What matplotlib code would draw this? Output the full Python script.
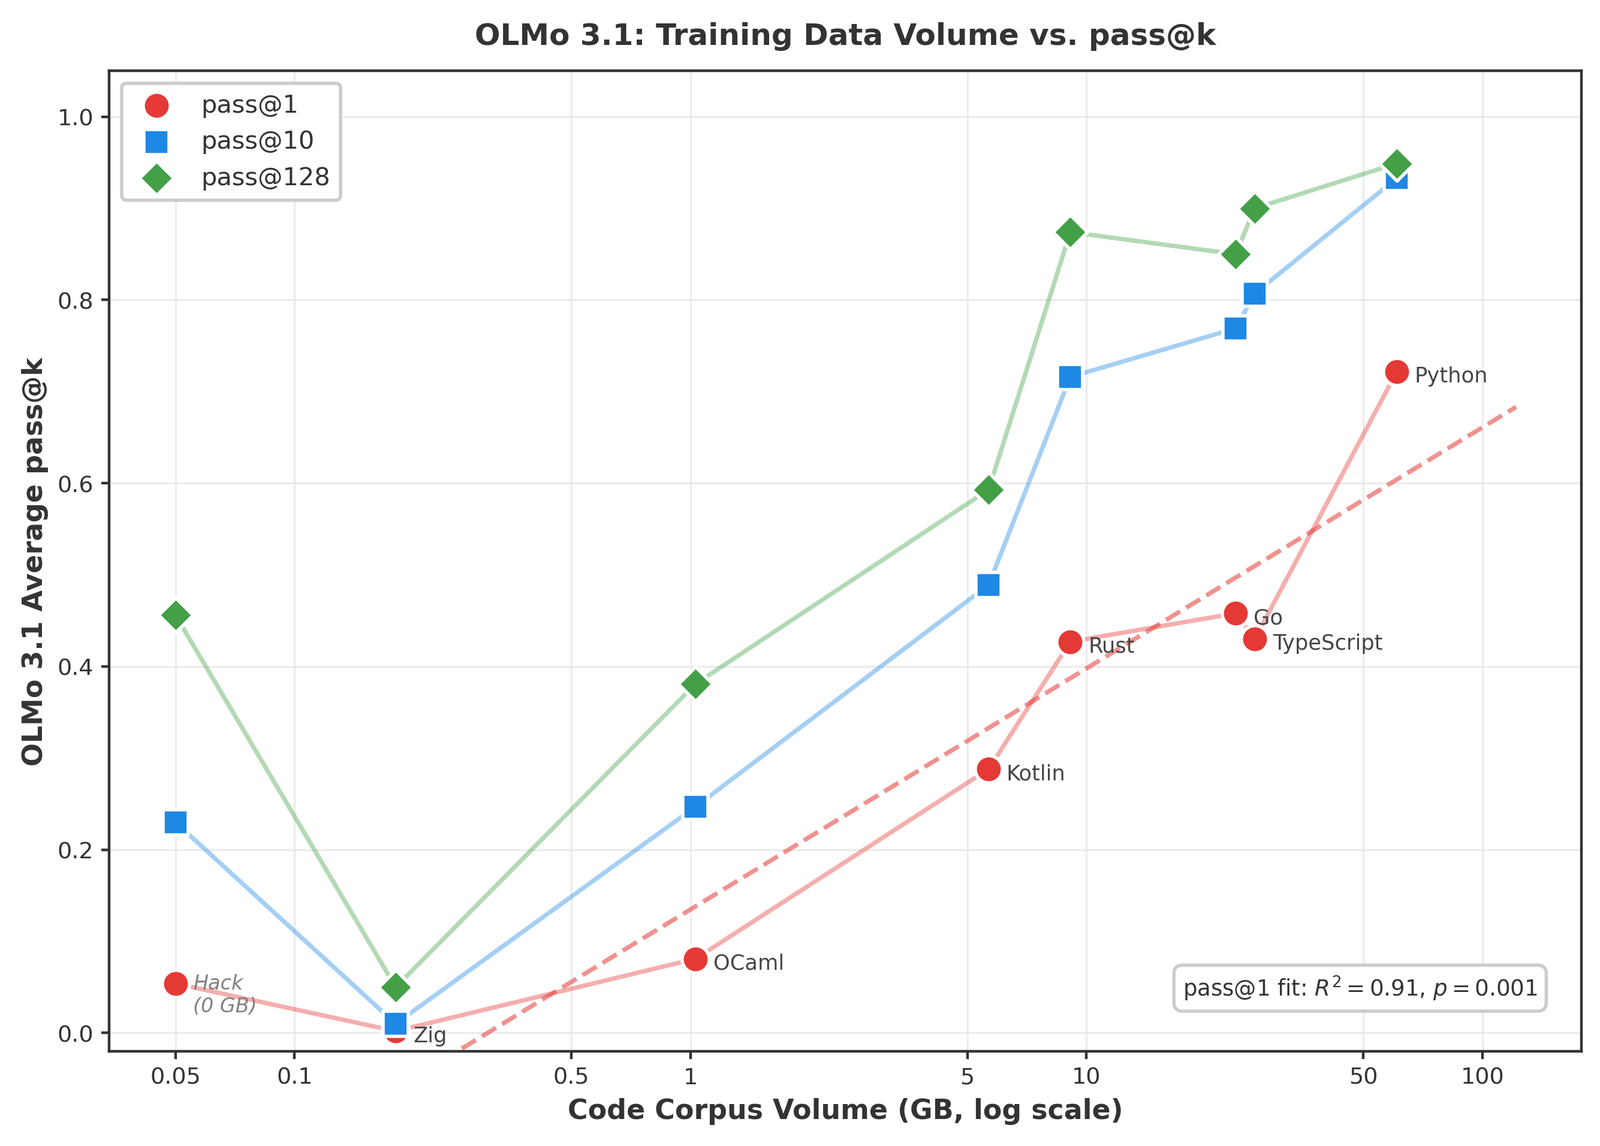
import numpy as np
import matplotlib
matplotlib.use("Agg")
import matplotlib.pyplot as plt

# ---------------------------------------------------------------- data
languages = ["Hack", "Zig", "OCaml", "Kotlin", "Rust", "Go", "TypeScript", "Python"]
corpus_gb = np.array([0.0, 0.18, 1.03, 5.66, 9.1, 23.8, 26.6, 60.8])
pass_at_1 = np.array([0.054, 0.002, 0.081, 0.288, 0.427, 0.458, 0.430, 0.722])
pass_at_10 = np.array([0.230, 0.010, 0.247, 0.489, 0.716, 0.769, 0.807, 0.933])
pass_at_128 = np.array([0.456, 0.050, 0.381, 0.593, 0.874, 0.850, 0.900, 0.949])

hack_x = 0.05  # zero-volume language is placed here on the log axis
x_ticks = [0.05, 0.1, 0.5, 1, 5, 10, 50, 100]
x_tick_labels = ["0.05", "0.1", "0.5", "1", "5", "10", "50", "100"]
fit_text = r"pass@1 fit: $R^2 = 0.91$, $p = 0.001$"

RED = "#E53935"
BLUE = "#1E88E5"
GREEN = "#43A047"
DARK = "#333333"

plt.rcParams["font.family"] = ["DejaVu Sans"]
plt.rcParams["text.color"] = DARK
plt.rcParams["axes.labelcolor"] = DARK
plt.rcParams["xtick.color"] = DARK
plt.rcParams["ytick.color"] = DARK

fig, ax = plt.subplots(figsize=(10, 7.167), dpi=266.9)
fig.subplots_adjust(left=0.0682, right=0.9885, top=0.9377, bottom=0.0826)

x = np.where(corpus_gb > 0, corpus_gb, hack_x)

series = [
    (pass_at_1, RED, "o", 150, "pass@1"),
    (pass_at_10, BLUE, "s", 125, "pass@10"),
    (pass_at_128, GREEN, "D", 120, "pass@128"),
]
for vals, col, mk, size, lab in series:
    ax.plot(x, vals, color=col, alpha=0.4, lw=2, zorder=2)
    ax.scatter(x, vals, s=size, marker=mk, color=col, edgecolor="white",
               linewidth=1.5, zorder=4, label=lab)

# log-linear fit on pass@1 (languages with data only)
mask = corpus_gb > 0
slope, intercept = np.polyfit(np.log10(corpus_gb[mask]), pass_at_1[mask], 1)
xf = np.logspace(np.log10(corpus_gb[mask].min() / 2), np.log10(corpus_gb[mask].max() * 2), 100)
ax.plot(xf, intercept + slope * np.log10(xf), ls="--", color=RED, alpha=0.55, lw=2, zorder=3)

# language labels
for i, name in enumerate(languages):
    if name == "Hack":
        ax.annotate("Hack\n(0 GB)", (x[i], pass_at_1[i]), xytext=(8, -5),
                    textcoords="offset points", va="center", ha="left",
                    fontsize=9, style="italic", color="#808080", zorder=5)
    else:
        ax.annotate(name, (x[i], pass_at_1[i]), xytext=(8, -2),
                    textcoords="offset points", va="center", ha="left",
                    fontsize=9.5, color="#444444", zorder=5)

ax.text(0.97, 0.05, fit_text, transform=ax.transAxes, ha="right", va="bottom",
        fontsize=10, zorder=6,
        bbox=dict(boxstyle="round,pad=0.4", facecolor="white", edgecolor="#cccccc", linewidth=1.5))

ax.set_xscale("log")
ax.set_xlim(0.034, 178)
ax.set_ylim(-0.02, 1.05)
ax.set_xticks(x_ticks)
ax.set_xticklabels(x_tick_labels)
ax.xaxis.set_minor_locator(matplotlib.ticker.NullLocator())
ax.set_yticks(np.arange(0, 1.01, 0.2))
ax.yaxis.set_major_formatter(matplotlib.ticker.FormatStrFormatter("%.1f"))
ax.tick_params(labelsize=10.3, width=1.2, length=3.5)

ax.grid(True, color="#e6e6e6", lw=0.8, alpha=0.8, zorder=0)
ax.set_axisbelow(True)
for sp in ax.spines.values():
    sp.set_color(DARK)
    sp.set_linewidth(1.2)

ax.set_xlabel("Code Corpus Volume (GB, log scale)", fontsize=12.4, fontweight="bold")
ax.set_ylabel("OLMo 3.1 Average pass@k", fontsize=12.4, fontweight="bold")
ax.set_title("OLMo 3.1: Training Data Volume vs. pass@k", fontsize=13.5, fontweight="bold", pad=12)

leg = ax.legend(loc="upper left", fontsize=11.2, frameon=True, fancybox=True, framealpha=1)
leg.get_frame().set_edgecolor("#cccccc")
leg.get_frame().set_linewidth(1.5)

fig.savefig("out.png", dpi=266.9)
